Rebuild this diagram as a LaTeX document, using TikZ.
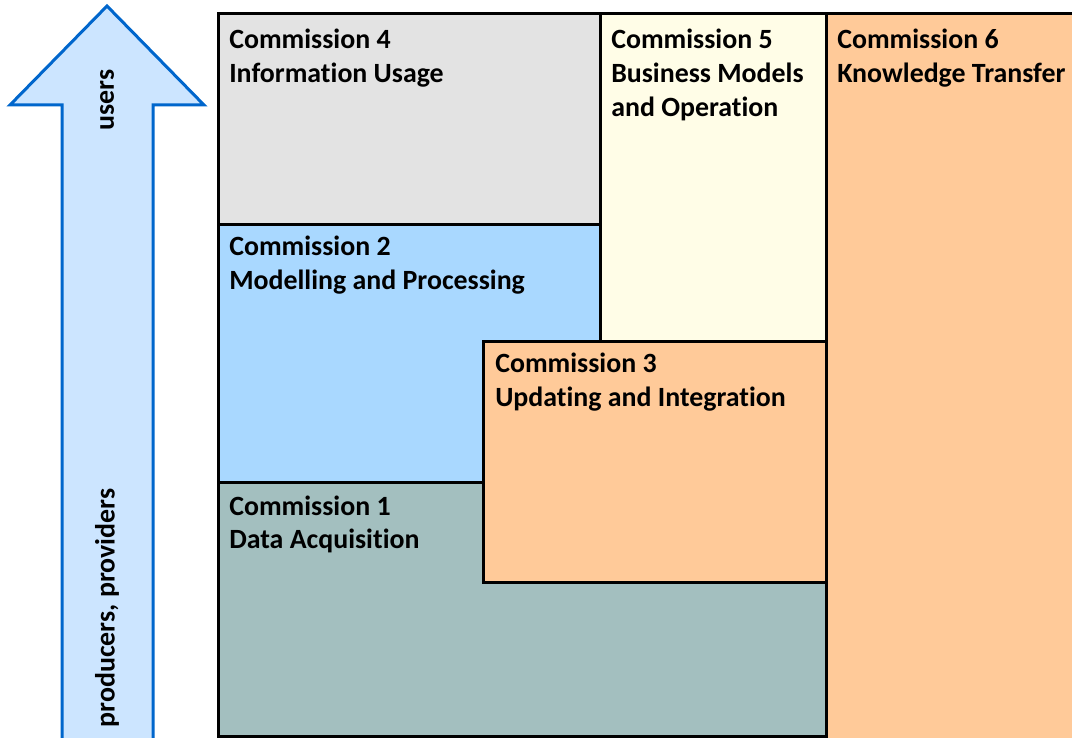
\documentclass[tikz,border=0pt]{standalone}
\usepackage{fontspec}
\setmainfont{Carlito}[Ligatures=NoCommon]
\definecolor{cgray}{HTML}{E3E3E3}
\definecolor{cyellow}{HTML}{FFFDE7}
\definecolor{cpeach}{HTML}{FFCA99}
\definecolor{cblue}{HTML}{A9D8FF}
\definecolor{cteal}{HTML}{A3BFBF}
\definecolor{afill}{HTML}{CCE5FF}
\definecolor{aline}{HTML}{0066CC}
\newcommand{\lines}[1]{\begin{tabular}[t]{@{}l@{}}#1\end{tabular}}
\begin{document}
\begin{tikzpicture}[x=0.75pt,y=-0.75pt,
  box/.style={draw=black,line width=2.25pt},
  lbl/.style={anchor=base west,inner sep=0pt,font=\fontsize{20.9}{25.2}\selectfont\bfseries},
  side/.style={inner sep=0pt,rotate=90,font=\fontsize{20.9}{24}\selectfont\bfseries}]
\useasboundingbox (0,0) rectangle (1072,738);
\clip (0,0) rectangle (1072,738);
% arrow
\draw[fill=afill,draw=aline,line width=2.25pt,line join=miter]
  (62,745) -- (62,105) -- (10,105) -- (107,6) -- (204,105) -- (153,105) -- (153,745);
\node[side] (users) at (107,100) {users};
\node[side] (prod) at (107,608) {producers, providers};
% boxes
\draw[box,fill=cpeach] (826,14) rectangle (1085,750);
\draw[box,fill=cgray] (218,14) rectangle (600,225);
\draw[box,fill=cyellow] (600,14) rectangle (826,341);
\draw[box,fill=cblue] (218,225) rectangle (600,482);
\draw[box,fill=cteal] (218,482) rectangle (826,736);
\draw[box,fill=cpeach] (483,341) rectangle (826,582);
% labels
\node[lbl] (c4) at (229,49) {\lines{Commission 4\\Information Usage}};
\node[lbl] (c5) at (611,49) {\lines{Commission 5\\Business Models\\and Operation}};
\node[lbl] (c6) at (837,49) {\lines{Commission 6\\Knowledge Transfer}};
\node[lbl] (c2) at (229,256) {\lines{Commission 2\\Modelling and Processing}};
\node[lbl] (c3) at (495,373) {\lines{Commission 3\\Updating and Integration}};
\node[lbl] (c1) at (229,515) {\lines{Commission 1\\Data Acquisition}};
\end{tikzpicture}
\end{document}
